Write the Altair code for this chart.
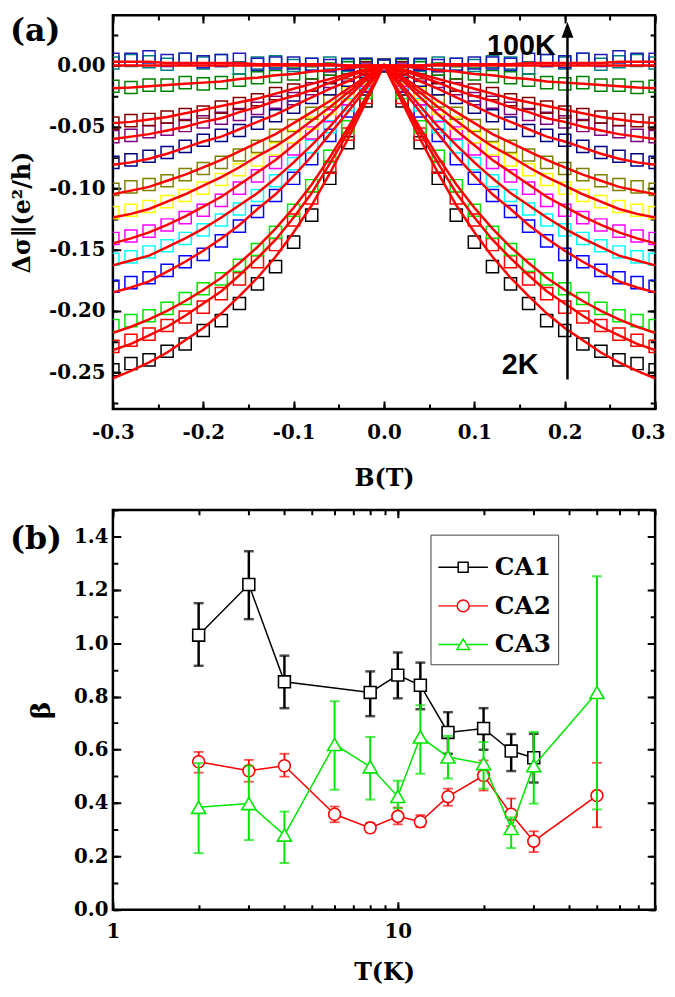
import altair as alt
import pandas as pd

# ---------------- panel (a) data ----------------
B_ABS = [0.00, 0.02, 0.04, 0.06, 0.08, 0.10, 0.12, 0.14, 0.16, 0.18, 0.20, 0.22, 0.24, 0.26, 0.28, 0.30]
TEMPS = ["2K", "3K", "4K", "6K", "8K", "10K", "12K", "15K", "20K", "25K", "30K", "50K", "80K", "100K"]
SQ_COLORS = ["#000000", "#ff0000", "#00e600", "#0000ff", "#00ffff", "#ff00ff", "#ffff00",
             "#808000", "#000080", "#800080", "#800000", "#008000", "#008080", "#1c1cb4"]

SQ_2K = [0.000, -0.029, -0.063, -0.092, -0.122, -0.144, -0.164, -0.178, -0.194, -0.208, -0.216, -0.227, -0.233, -0.240, -0.243, -0.248]
SQ_3K = [0.000, -0.026, -0.056, -0.083, -0.108, -0.126, -0.146, -0.160, -0.174, -0.186, -0.197, -0.205, -0.212, -0.219, -0.224, -0.229]
SQ_4K = [0.000, -0.022, -0.050, -0.074, -0.098, -0.118, -0.136, -0.150, -0.163, -0.174, -0.182, -0.190, -0.198, -0.204, -0.208, -0.212]
SQ_6K = [0.000, -0.017, -0.037, -0.057, -0.076, -0.092, -0.106, -0.119, -0.131, -0.143, -0.154, -0.160, -0.167, -0.173, -0.177, -0.180]
SQ_8K = [0.000, -0.014, -0.032, -0.050, -0.066, -0.080, -0.094, -0.106, -0.117, -0.126, -0.134, -0.141, -0.147, -0.152, -0.156, -0.158]
SQ_10K = [0.000, -0.012, -0.027, -0.041, -0.055, -0.068, -0.079, -0.090, -0.100, -0.110, -0.118, -0.124, -0.130, -0.135, -0.139, -0.141]
SQ_12K = [0.000, -0.010, -0.023, -0.035, -0.047, -0.058, -0.068, -0.077, -0.085, -0.093, -0.100, -0.106, -0.111, -0.115, -0.118, -0.120]
SQ_15K = [0.000, -0.008, -0.018, -0.029, -0.039, -0.049, -0.057, -0.066, -0.073, -0.079, -0.084, -0.089, -0.094, -0.097, -0.099, -0.101]
SQ_20K = [0.000, -0.005, -0.012, -0.019, -0.026, -0.034, -0.041, -0.047, -0.053, -0.057, -0.061, -0.066, -0.071, -0.074, -0.077, -0.079]
SQ_25K = [0.000, -0.003, -0.008, -0.013, -0.019, -0.027, -0.030, -0.035, -0.040, -0.043, -0.046, -0.049, -0.052, -0.054, -0.057, -0.058]
SQ_30K = [0.000, -0.002, -0.006, -0.010, -0.016, -0.020, -0.023, -0.028, -0.031, -0.034, -0.038, -0.040, -0.042, -0.044, -0.045, -0.047]
SQ_50K = [0.000, 0.000, -0.002, -0.003, -0.006, -0.007, -0.009, -0.010, -0.012, -0.014, -0.015, -0.014, -0.016, -0.016, -0.018, -0.017]
SQ_80K = [0.000, 0.001, 0.000, 0.002, 0.001, 0.000, 0.003, 0.002, -0.002, 0.004, 0.002, 0.005, 0.001, 0.003, 0.004, 0.002]
SQ_100K = [0.000, 0.001, 0.001, 0.000, 0.001, 0.002, 0.002, 0.001, 0.005, 0.004, 0.003, 0.005, 0.004, 0.007, 0.005, 0.005]

FIT_2K = [0.000, -0.030, -0.060, -0.088, -0.114, -0.136, -0.156, -0.173, -0.188, -0.202, -0.214, -0.224, -0.234, -0.242, -0.249, -0.255]
FIT_3K = [0.000, -0.027, -0.055, -0.080, -0.104, -0.124, -0.142, -0.157, -0.171, -0.184, -0.194, -0.204, -0.213, -0.220, -0.227, -0.232]
FIT_4K = [0.000, -0.026, -0.051, -0.075, -0.097, -0.116, -0.133, -0.148, -0.161, -0.173, -0.183, -0.192, -0.200, -0.207, -0.213, -0.218]
FIT_6K = [0.000, -0.019, -0.038, -0.056, -0.074, -0.090, -0.105, -0.117, -0.130, -0.141, -0.151, -0.160, -0.168, -0.176, -0.181, -0.185]
FIT_8K = [0.000, -0.016, -0.033, -0.050, -0.065, -0.079, -0.092, -0.104, -0.114, -0.124, -0.133, -0.141, -0.148, -0.155, -0.159, -0.163]
FIT_10K = [0.000, -0.012, -0.026, -0.040, -0.053, -0.065, -0.077, -0.087, -0.097, -0.107, -0.115, -0.123, -0.130, -0.136, -0.141, -0.145]
FIT_12K = [0.000, -0.011, -0.022, -0.034, -0.045, -0.056, -0.066, -0.074, -0.083, -0.091, -0.098, -0.105, -0.111, -0.117, -0.121, -0.124]
FIT_15K = [0.000, -0.009, -0.019, -0.029, -0.038, -0.047, -0.056, -0.063, -0.070, -0.077, -0.083, -0.089, -0.094, -0.099, -0.102, -0.105]
FIT_20K = [0.000, -0.006, -0.013, -0.019, -0.026, -0.033, -0.040, -0.046, -0.052, -0.058, -0.062, -0.067, -0.072, -0.076, -0.079, -0.081]
FIT_25K = [0.000, -0.004, -0.009, -0.014, -0.020, -0.025, -0.029, -0.034, -0.038, -0.043, -0.046, -0.050, -0.053, -0.056, -0.058, -0.060]
FIT_30K = [0.000, -0.003, -0.007, -0.011, -0.015, -0.019, -0.023, -0.027, -0.030, -0.033, -0.036, -0.039, -0.042, -0.044, -0.046, -0.047]
FIT_50K = [0.000, -0.001, -0.002, -0.004, -0.005, -0.007, -0.008, -0.010, -0.011, -0.013, -0.014, -0.015, -0.016, -0.017, -0.018, -0.0185]
FIT_80K = [0.000, 0.000, 0.000, 0.000, 0.000, 0.000, 0.000, 0.000, 0.000, 0.000, 0.000, 0.000, 0.000, 0.000, 0.000, 0.000]
FIT_100K = [0.000, 0.000, 0.000, 0.001, 0.001, 0.001, 0.001, 0.001, 0.002, 0.002, 0.002, 0.002, 0.002, 0.003, 0.003, 0.003]

SQ_LISTS = [SQ_2K, SQ_3K, SQ_4K, SQ_6K, SQ_8K, SQ_10K, SQ_12K, SQ_15K, SQ_20K, SQ_25K, SQ_30K, SQ_50K, SQ_80K, SQ_100K]
FIT_LISTS = [FIT_2K, FIT_3K, FIT_4K, FIT_6K, FIT_8K, FIT_10K, FIT_12K, FIT_15K, FIT_20K, FIT_25K, FIT_30K, FIT_50K, FIT_80K, FIT_100K]

# annotation anchors (data units)
ARROW_B = 0.203
ARROW_Y0 = -0.256
ARROW_Y1 = 0.025
ARROW_HEAD_Y = 0.029
LABEL_100K = ("100K", 0.190, 0.016)
LABEL_2K = ("2K", 0.171, -0.2445)

# ---------------- panel (b) data ----------------
SERIES = ["CA1", "CA2", "CA3"]
SERIES_COLORS = ["#000000", "#ff0000", "#00e600"]

CA1_T = [2, 3, 4, 8, 10, 12, 15, 20, 25, 30]
CA1_BETA = [1.03, 1.22, 0.855, 0.815, 0.88, 0.842, 0.665, 0.68, 0.595, 0.57]
CA1_LO = [0.915, 1.09, 0.756, 0.726, 0.793, 0.752, 0.585, 0.60, 0.52, 0.477]
CA1_HI = [1.15, 1.345, 0.953, 0.894, 0.965, 0.927, 0.741, 0.756, 0.659, 0.66]

CA2_T = [2, 3, 4, 6, 8, 10, 12, 15, 20, 25, 30, 50]
CA2_BETA = [0.555, 0.521, 0.54, 0.358, 0.307, 0.35, 0.33, 0.424, 0.503, 0.358, 0.257, 0.428]
CA2_LO = [0.514, 0.48, 0.499, 0.328, 0.29, 0.32, 0.31, 0.39, 0.447, 0.313, 0.216, 0.309]
CA2_HI = [0.592, 0.562, 0.585, 0.387, 0.325, 0.383, 0.355, 0.454, 0.56, 0.417, 0.294, 0.551]

CA3_T = [2, 3, 4, 6, 8, 10, 12, 15, 20, 25, 30, 50]
CA3_BETA = [0.384, 0.398, 0.28, 0.62, 0.536, 0.425, 0.648, 0.573, 0.548, 0.305, 0.54, 0.815]
CA3_LO = [0.212, 0.261, 0.175, 0.45, 0.413, 0.38, 0.51, 0.492, 0.454, 0.231, 0.398, 0.376]
CA3_HI = [0.55, 0.54, 0.368, 0.782, 0.648, 0.484, 0.767, 0.652, 0.629, 0.346, 0.667, 1.251]

# ---------------- tables ----------------
sq_rows, fit_rows = [], []
for t, sq, ft in zip(TEMPS, SQ_LISTS, FIT_LISTS):
    for b, v, f in zip(B_ABS, sq, ft):
        sq_rows.append({"T": t, "B": b, "v": v})
        fit_rows.append({"T": t, "B": b, "v": f})
        if b > 0:
            sq_rows.append({"T": t, "B": -b, "v": v})
            fit_rows.append({"T": t, "B": -b, "v": f})
df_sq = pd.DataFrame(sq_rows)
df_fit = pd.DataFrame(fit_rows).sort_values(["T", "B"])

b_rows = []
for s, ts, bs, los, his in [("CA1", CA1_T, CA1_BETA, CA1_LO, CA1_HI),
                            ("CA2", CA2_T, CA2_BETA, CA2_LO, CA2_HI),
                            ("CA3", CA3_T, CA3_BETA, CA3_LO, CA3_HI)]:
    for t, b, lo, hi in zip(ts, bs, los, his):
        b_rows.append({"series": s, "T": t, "beta": b, "lo": lo, "hi": hi})
df_b = pd.DataFrame(b_rows)

# ---------------- layout constants ----------------
W = 548
H_A = 398
H_B = 404
GAP = 102
SERIF = "DejaVu Serif"
SANS = "Liberation Sans"


def dash(tick, length):
    return [tick, length - 2 * tick, tick, 4000]


MINUS_FIX = "replace(format(datum.value, '{fmt}'), '\u2212', '-')"

# ---------------- panel (a) ----------------
xs_a = alt.Scale(domain=[-0.3, 0.3], nice=False, zero=False)
ys_a = alt.Scale(domain=[-0.28, 0.041], nice=False, zero=False)

XA_MAJOR = [-0.3, -0.2, -0.1, 0.0, 0.1, 0.2, 0.3]
XA_MINOR = [round(-0.3 + 0.05 * i, 3) for i in range(13)]
YA_MAJOR = [-0.25, -0.2, -0.15, -0.1, -0.05, 0.0]
YA_MINOR = [round(-0.275 + 0.025 * i, 3) for i in range(13)]

last_cond = "datum.value > 0.29"
ax_xa_major = alt.Axis(orient="bottom", values=XA_MAJOR, title="B(T)",
                       labelExpr=MINUS_FIX.format(fmt=".1f"), labelFlush=False,
                       labelAlign={"condition": {"test": last_cond, "value": "right"}, "value": "center"},
                       labelOffset={"condition": {"test": last_cond, "value": 10}, "value": 0},
                       ticks=False, domain=False, grid=True, gridDash=dash(8, H_A),
                       labelPadding=14, titlePadding=24)
ax_xa_minor = alt.Axis(orient="top", values=XA_MINOR, labels=False, title=None,
                       ticks=False, domain=False, grid=True, gridDash=dash(5, H_A))
ax_ya_major = alt.Axis(orient="left", values=YA_MAJOR, title="Δσ‖(e²/h)",
                       labelExpr=MINUS_FIX.format(fmt=".2f"),
                       ticks=False, domain=False, grid=True, gridDash=dash(8, W),
                       labelPadding=8, titlePadding=14)
ax_ya_minor = alt.Axis(orient="right", values=YA_MINOR, labels=False, title=None,
                       ticks=False, domain=False, grid=True, gridDash=dash(5, W))

sq_layer = alt.Chart(df_sq).mark_point(shape="square", filled=False, size=150,
                                       strokeWidth=1.5, opacity=1, clip=True).encode(
    x=alt.X("B:Q", scale=xs_a, axis=ax_xa_major),
    y=alt.Y("v:Q", scale=ys_a, axis=ax_ya_major),
    stroke=alt.Stroke("T:N", scale=alt.Scale(domain=TEMPS, range=SQ_COLORS), legend=None),
)
fit_layer = alt.Chart(df_fit).mark_line(color="#ff0000", strokeWidth=2.5, clip=True).encode(
    x=alt.X("B:Q", scale=xs_a, axis=ax_xa_minor),
    y=alt.Y("v:Q", scale=ys_a, axis=ax_ya_minor),
    detail="T:N",
    order="B:Q",
)
df_arrow = pd.DataFrame({"B": [ARROW_B], "y0": [ARROW_Y0], "y1": [ARROW_Y1], "yh": [ARROW_HEAD_Y]})
arrow_rule = alt.Chart(df_arrow).mark_rule(color="black", strokeWidth=2.5).encode(
    x=alt.X("B:Q", scale=xs_a, axis=None),
    y=alt.Y("y0:Q", scale=ys_a, axis=None),
    y2="y1:Q",
)
arrow_head = alt.Chart(df_arrow).mark_point(shape="M0,-1L0.75,1L-0.75,1Z", filled=True,
                                            color="black", size=256, opacity=1).encode(
    x=alt.X("B:Q", scale=xs_a, axis=None),
    y=alt.Y("yh:Q", scale=ys_a, axis=None),
)
df_lab_a = pd.DataFrame({"txt": [LABEL_100K[0], LABEL_2K[0]],
                         "B": [LABEL_100K[1], LABEL_2K[1]],
                         "y": [LABEL_100K[2], LABEL_2K[2]]})
lab_a = alt.Chart(df_lab_a).mark_text(align="right", baseline="middle", font=SANS,
                                      fontWeight="bold", fontSize=29, color="black").encode(
    x=alt.X("B:Q", scale=xs_a, axis=None),
    y=alt.Y("y:Q", scale=ys_a, axis=None),
    text="txt:N",
)
tag_a = alt.Chart(pd.DataFrame({"t": ["(a)"]})).mark_text(
    align="left", baseline="top", font=SERIF, fontWeight="bold", fontSize=32, color="black"
).encode(x=alt.value(-104), y=alt.value(1), text="t:N")

panel_a = alt.layer(sq_layer, fit_layer, arrow_rule, arrow_head, lab_a, tag_a).resolve_axis(
    x="independent", y="independent").properties(width=W, height=H_A)

# ---------------- panel (b) ----------------
xs_b = alt.Scale(type="log", domain=[1, 80], nice=False)
ys_b = alt.Scale(domain=[0, 1.5], nice=False, zero=True)

XB_MAJOR = [1, 10]
XB_MINOR = [1, 2, 3, 4, 5, 6, 7, 8, 9, 10, 20, 30, 40, 50, 60, 70, 80]
YB_MAJOR = [0.0, 0.2, 0.4, 0.6, 0.8, 1.0, 1.2, 1.4]
YB_MINOR = [round(0.1 * i, 1) for i in range(16)]

ax_xb_major = alt.Axis(orient="bottom", values=XB_MAJOR, title="T(K)",
                       labelExpr="format(datum.value, 'd')", labelFlush=False,
                       ticks=False, domain=False, grid=True, gridDash=dash(8, H_B),
                       labelPadding=12, titlePadding=20)
ax_xb_minor = alt.Axis(orient="top", values=XB_MINOR, labels=False, title=None,
                       ticks=False, domain=False, grid=True, gridDash=dash(5, H_B))
ax_yb_major = alt.Axis(orient="left", values=YB_MAJOR, title="β", titleFontSize=27,
                       labelExpr="format(datum.value, '.1f')",
                       ticks=False, domain=False, grid=True, gridDash=dash(8, W),
                       labelPadding=5, titlePadding=18)
ax_yb_minor = alt.Axis(orient="right", values=YB_MINOR, labels=False, title=None,
                       ticks=False, domain=False, grid=True, gridDash=dash(5, W))

base_b = alt.Chart(df_b)
axes_major_b = base_b.mark_point(opacity=0).encode(
    x=alt.X("T:Q", scale=xs_b, axis=ax_xb_major),
    y=alt.Y("beta:Q", scale=ys_b, axis=ax_yb_major),
)
axes_minor_b = base_b.mark_point(opacity=0).encode(
    x=alt.X("T:Q", scale=xs_b, axis=ax_xb_minor),
    y=alt.Y("beta:Q", scale=ys_b, axis=ax_yb_minor),
)

X_B = alt.X("T:Q", scale=xs_b, axis=None)
STYLE_B = {
    "CA1": dict(shape="square", size=144, err=2.5),
    "CA2": dict(shape="circle", size=144, err=1.8),
    "CA3": dict(shape="triangle-up", size=200, err=2.0),
}
series_layers = []
for s, c in zip(SERIES, SERIES_COLORS):
    st = STYLE_B[s]
    bs = base_b.transform_filter(alt.datum.series == s)
    rule = bs.mark_rule(color=c, strokeWidth=st["err"]).encode(
        x=X_B, y=alt.Y("lo:Q", scale=ys_b, axis=None), y2="hi:Q")
    cap_lo = bs.mark_tick(color=c, orient="horizontal", size=10, thickness=st["err"]).encode(
        x=X_B, y=alt.Y("lo:Q", scale=ys_b, axis=None))
    cap_hi = bs.mark_tick(color=c, orient="horizontal", size=10, thickness=st["err"]).encode(
        x=X_B, y=alt.Y("hi:Q", scale=ys_b, axis=None))
    line = bs.mark_line(color=c, strokeWidth=1.5).encode(
        x=X_B, y=alt.Y("beta:Q", scale=ys_b, axis=None), order="T:Q")
    pts = bs.mark_point(shape=st["shape"], filled=True, fill="white", stroke=c,
                        strokeWidth=1.6, size=st["size"], opacity=1).encode(
        x=X_B, y=alt.Y("beta:Q", scale=ys_b, axis=None))
    series_layers += [rule, cap_lo, cap_hi, line, pts]

# legend symbols: line - marker - line
LEGEND_PATHS = [
    "M-1,0H-0.2M0.2,0H1M-0.2,-0.2H0.2V0.2H-0.2Z",
    "M-1,0H-0.24M0.24,0H1M-0.24,0A0.24,0.24,0,1,0,0.24,0A0.24,0.24,0,1,0,-0.24,0Z",
    "M-1,0H-0.12M0.12,0H1M0,-0.22L0.25,0.2L-0.25,0.2Z",
]
SHAPE_EXPR = "datum.value === '{0}' ? '{1}' : datum.value === '{2}' ? '{3}' : '{4}'".format(
    SERIES[0], LEGEND_PATHS[0], SERIES[1], LEGEND_PATHS[1], LEGEND_PATHS[2])

leg_def = alt.Legend(orient="none", legendX=321, legendY=25, title=None,
                     symbolSize=2500, symbolStrokeWidth=1.5, labelFont=SERIF,
                     labelFontWeight="bold", labelFontSize=25, labelColor="black",
                     labelOffset=6, padding=7, rowPadding=-4, strokeColor="#444444",
                     fillColor="white", symbolType={"expr": SHAPE_EXPR})
legend_layer = base_b.transform_filter("datum.beta > 99").mark_point(
    filled=False, strokeWidth=1.5, opacity=1).encode(
    x=X_B,
    y=alt.Y("beta:Q", scale=ys_b, axis=None),
    color=alt.Color("series:N", scale=alt.Scale(domain=SERIES, range=SERIES_COLORS), legend=leg_def),
)
tag_b = alt.Chart(pd.DataFrame({"t": ["(b)"]})).mark_text(
    align="left", baseline="middle", font=SERIF, fontWeight="bold", fontSize=32, color="black"
).encode(x=alt.value(-104), y=alt.value(30), text="t:N")

panel_b = alt.layer(axes_major_b, axes_minor_b, *series_layers, legend_layer, tag_b).resolve_axis(
    x="independent", y="independent").properties(width=W, height=H_B)

chart = alt.VConcatChart(vconcat=[panel_a, panel_b], spacing=GAP, bounds="flush", padding=0).resolve_scale(
    color="independent", stroke="independent"
).resolve_legend(
    color="independent", stroke="independent"
).configure_view(
    stroke="black", strokeWidth=2.5
).configure_axis(
    labelFont=SERIF, labelFontWeight="bold", labelFontSize=20, labelColor="black",
    titleFont=SERIF, titleFontWeight="bold", titleFontSize=24, titleColor="black",
    gridColor="black", gridWidth=2, gridOpacity=1,
)

chart.save("out.html", embed_options={"renderer": "svg", "actions": False})
